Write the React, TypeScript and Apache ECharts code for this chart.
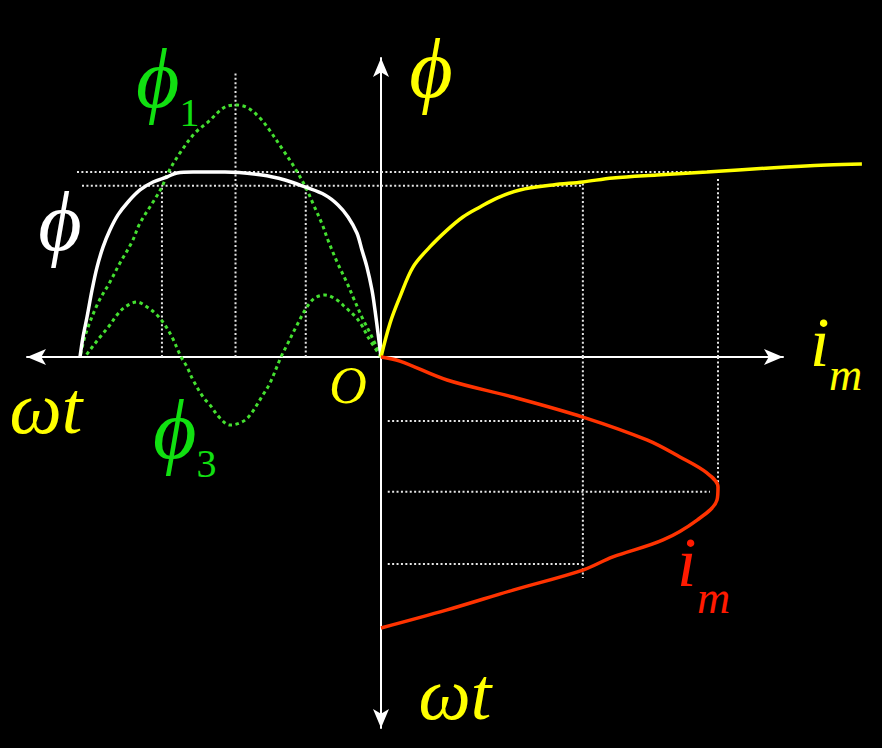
import React, { useEffect, useRef } from "react";
import * as echarts from "echarts";

// ---------- data ----------
// White curve: total flux phi vs wt (left quadrant), wt in degrees, phi in units of the flat top
const fluxWt = [0, 1.8, 3.6, 5.4, 8.4, 11.4, 14.4, 19.7, 25.7, 33.5, 45.4, 57.4, 71.2, 93.3, 112.4, 122.0, 128.0, 136.3, 144.1, 151.3, 157.3, 162.1, 166.2, 169.8, 172.8, 175.8, 178.2, 180];
const fluxPhi = [0, 0.13, 0.254, 0.362, 0.486, 0.578, 0.67, 0.757, 0.822, 0.876, 0.919, 0.957, 0.984, 1.0, 1.0, 0.995, 0.973, 0.946, 0.903, 0.838, 0.768, 0.686, 0.595, 0.486, 0.362, 0.216, 0.108, 0];

// Green dotted: fundamental phi1
const phi1Wt = [0, 5.4, 11.4, 16.7, 20.3, 26.3, 31.7, 35.3, 40.7, 44.9, 51.4, 58.6, 67.6, 72.4, 79.5, 86.1, 93.3, 103.5, 111.2, 120.2, 127.4, 131.0, 136.3, 144.1, 148.9, 156.1, 162.1, 169.2, 176.4, 180];
const phi1Val = [0, 0.108, 0.216, 0.324, 0.4, 0.514, 0.632, 0.72, 0.83, 0.915, 1.02, 1.119, 1.238, 1.292, 1.346, 1.362, 1.351, 1.27, 1.211, 1.103, 0.995, 0.919, 0.838, 0.724, 0.622, 0.508, 0.405, 0.292, 0.13, 0];

// Green dotted: third harmonic phi3
const phi3Wt = [0, 7.8, 11.4, 15.5, 21.5, 26.3, 33.5, 39.5, 44.3, 50.2, 56.2, 59.8, 66.4, 70.6, 78.3, 83.1, 90.3, 96.3, 102.3, 106.4, 112.4, 116.0, 119.5, 125.0, 129.2, 134.0, 139.9, 145.9, 153.1, 157.9, 162.1, 168.0, 174.0, 177.0];
const phi3Val = [0, 0.108, 0.17, 0.22, 0.27, 0.308, 0.335, 0.319, 0.27, 0.173, 0.065, 0, -0.141, -0.205, -0.314, -0.351, -0.368, -0.33, -0.259, -0.216, -0.124, -0.054, 0, 0.108, 0.173, 0.227, 0.27, 0.297, 0.27, 0.227, 0.173, 0.108, 0.038, 0];

// Yellow: magnetisation curve phi vs i_m
const magIm = [0, 0.027, 0.056, 0.095, 0.145, 0.196, 0.243, 0.294, 0.344, 0.412, 0.51, 0.599, 0.688, 0.819, 0.967, 1.154, 1.323, 1.427];
const magPhi = [0, 0.184, 0.324, 0.486, 0.595, 0.686, 0.757, 0.811, 0.859, 0.903, 0.93, 0.946, 0.968, 0.984, 1.0, 1.022, 1.038, 1.043];

// Red: magnetising current i_m vs wt (lower right quadrant)
const curIm = [0, 0.056, 0.196, 0.392, 0.599, 0.789, 0.887, 0.967, 1.0, 0.997, 0.938, 0.837, 0.688, 0.599, 0.392, 0.196, 0];
const curWt = [0, 2.7, 15.3, 26.6, 39.9, 55.1, 66.4, 77.0, 86.3, 95.0, 108.3, 121.5, 132.8, 141.5, 154.8, 168.0, 180];

// Dotted construction lines
const guidesWtPhi = [
  [[181.8, 1.0], [0, 1.0]],
  [[178.8, 0.926], [0, 0.926]],
  [[45, 0], [45, 0.926]],
  [[87, 0], [87, 1.54]],
  [[131, 0], [131, 0.926]],
];
const guidesImPhi = [
  [[0, 1.0], [0.967, 1.0]],
  [[0, 0.926], [0.599, 0.926]],
  [[0.599, 0], [0.599, 0.94]],
  [[1.0, 0], [1.0, 0.968]],
];
const guidesImWt = [
  [[0.599, 0], [0.599, 146.8]],
  [[1.0, 0], [1.0, 86.3]],
  [[0.02, 42.5], [0.599, 42.5]],
  [[0.02, 89.5], [0.976, 89.5]],
  [[0.02, 137.5], [0.599, 137.5]],
];

// ---------- layout ----------
const W = 882;
const H = 748;
// grid 0 carries only the visible axis lines (arrow tips at its edges)
const AXES = { left: 27, right: 99, top: 58, bottom: 20 };
const ORIGIN = { x: 381, y: 357 };
const pxPerDegH = 301 / 180;
const pxPerPhi = 185;
const pxPerIm = 337;
const pxPerDegV = 271 / 180;

const axLeft = ORIGIN.x - AXES.left;
const axRight = W - AXES.right - ORIGIN.x;
const axTop = ORIGIN.y - AXES.top;
const axBottom = H - AXES.bottom - ORIGIN.y;

// grid 1 (data) covers the whole canvas
const dLeft = ORIGIN.x;
const dRight = W - ORIGIN.x;
const dTop = ORIGIN.y;
const dBottom = H - ORIGIN.y;

const zip = (a: number[], b: number[]) => a.map((v, i) => [v, b[i]]);

const SERIF = "'Liberation Serif', 'DejaVu Serif', serif";
const YELLOW = "#ffff00";
const GREEN = "#44e030";
const GREEN_TXT = "#11e011";
const RED = "#ff3300";
const RED_TXT = "#ff1a00";
const GUIDE = "#e6e6e6";

const font = (size: number, italic = true) => `${italic ? "italic " : ""}${size}px ${SERIF}`;

function txt(text: string, x: number, y: number, color: string, size: number, italic = true) {
  return {
    type: "text",
    x,
    y,
    silent: true,
    z: 100,
    style: {
      text,
      fill: color,
      font: font(size, italic),
      textAlign: "center",
      textVerticalAlign: "middle",
      align: "center",
      verticalAlign: "middle",
    },
  };
}

// main glyph followed by a lowered subscript (rich text, one element)
function subTxt(
  main: string,
  sub: string,
  x: number,
  y: number,
  color: string,
  mainSize: number,
  subSize: number,
  subItalic: boolean,
  mainWidth: number | undefined,
  drop: number
) {
  const a: Record<string, unknown> = { font: font(mainSize), fill: color, lineHeight: mainSize, verticalAlign: "top" };
  if (mainWidth !== undefined) a.width = mainWidth;
  return {
    type: "text",
    x,
    y,
    silent: true,
    z: 100,
    style: {
      text: `{a|${main}}{b|${sub}}`,
      fill: color,
      textAlign: "left",
      textVerticalAlign: "middle",
      align: "left",
      verticalAlign: "middle",
      rich: {
        a,
        b: { font: font(subSize, subItalic), fill: color, lineHeight: subSize, verticalAlign: "top", padding: [drop, 0, 0, 0] },
      },
    },
  };
}

export default function App() {
  const ref = useRef<HTMLDivElement>(null);
  useEffect(() => {
    const chart = echarts.init(ref.current!, null, { renderer: "svg" });
    const guideSeries = (segs: number[][][], xi: number, yi: number) =>
      segs.map((seg) => ({
        type: "line",
        xAxisIndex: xi,
        yAxisIndex: yi,
        data: seg,
        showSymbol: false,
        silent: true,
        z: 1,
        lineStyle: { color: GUIDE, width: 2, type: [2, 2.4] },
      }));
    const axisLineStyle = {
      show: true,
      onZero: true,
      onZeroAxisIndex: 0,
      symbol: ["arrow", "arrow"],
      symbolSize: [12, 19],
      lineStyle: { color: "#ffffff", width: 2 },
    };
    const curve = (name: string, xi: number, yi: number, data: number[][], color: string, width: number, dash?: number[]) => ({
      name,
      type: "line",
      xAxisIndex: xi,
      yAxisIndex: yi,
      data,
      showSymbol: false,
      smooth: 0.35,
      z: dash ? 3 : 4,
      lineStyle: dash ? { color, width, type: dash } : { color, width },
    });
    chart.setOption({
      animation: false,
      backgroundColor: "#000000",
      grid: [
        { left: AXES.left, right: AXES.right, top: AXES.top, bottom: AXES.bottom },
        { left: 0, right: 0, top: 0, bottom: 0 },
      ],
      xAxis: [
        {
          type: "value",
          gridIndex: 0,
          inverse: true,
          min: -axRight / pxPerDegH,
          max: axLeft / pxPerDegH,
          axisLine: axisLineStyle,
          axisTick: { show: false },
          axisLabel: { show: false },
          splitLine: { show: false },
        },
        // wt (left quadrant), degrees, increasing to the left
        { type: "value", gridIndex: 1, inverse: true, min: -dRight / pxPerDegH, max: dLeft / pxPerDegH, show: false },
        // i_m
        { type: "value", gridIndex: 1, min: -dLeft / pxPerIm, max: dRight / pxPerIm, show: false },
      ],
      yAxis: [
        {
          type: "value",
          gridIndex: 0,
          min: -axBottom / pxPerPhi,
          max: axTop / pxPerPhi,
          axisLine: axisLineStyle,
          axisTick: { show: false },
          axisLabel: { show: false },
          splitLine: { show: false },
        },
        // phi
        { type: "value", gridIndex: 1, min: -dBottom / pxPerPhi, max: dTop / pxPerPhi, show: false },
        // wt (lower quadrant), degrees, increasing downwards
        { type: "value", gridIndex: 1, inverse: true, min: -dTop / pxPerDegV, max: dBottom / pxPerDegV, show: false },
      ],
      series: [
        ...guideSeries(guidesWtPhi, 1, 1),
        ...guideSeries(guidesImPhi, 2, 1),
        ...guideSeries(guidesImWt, 2, 2),
        curve("phi1", 1, 1, zip(phi1Wt, phi1Val), GREEN, 3, [3.5, 3.5]),
        curve("phi3", 1, 1, zip(phi3Wt, phi3Val), GREEN, 3, [3.5, 3.5]),
        curve("phi", 1, 1, zip(fluxWt, fluxPhi), "#ffffff", 3.5),
        curve("magnetisation", 2, 1, zip(magIm, magPhi), YELLOW, 3.5),
        curve("im", 2, 2, zip(curIm, curWt), RED, 3.5),
      ],
      graphic: [
        txt("ϕ", 431, 68, YELLOW, 84),
        subTxt("ϕ", "1", 136, 78, GREEN_TXT, 84, 40, false, undefined, 56),
        txt("ϕ", 60, 221, "#ffffff", 84),
        subTxt("ϕ", "3", 153, 429, GREEN_TXT, 84, 40, false, undefined, 56),
        txt("ωt", 46, 408, YELLOW, 74),
        txt("O", 348, 385, YELLOW, 52),
        subTxt("i", "m", 810, 342, YELLOW, 70, 46, true, 19, 44),
        subTxt("i", "m", 677, 562, RED_TXT, 70, 46, true, 20, 47),
        txt("ωt", 455, 694, YELLOW, 74),
      ],
    });
    return () => chart.dispose();
  }, []);
  return (
    <div
      ref={ref}
      style={{ position: "fixed", left: 0, top: 0, width: W, height: H, background: "#000" }}
    />
  );
}
